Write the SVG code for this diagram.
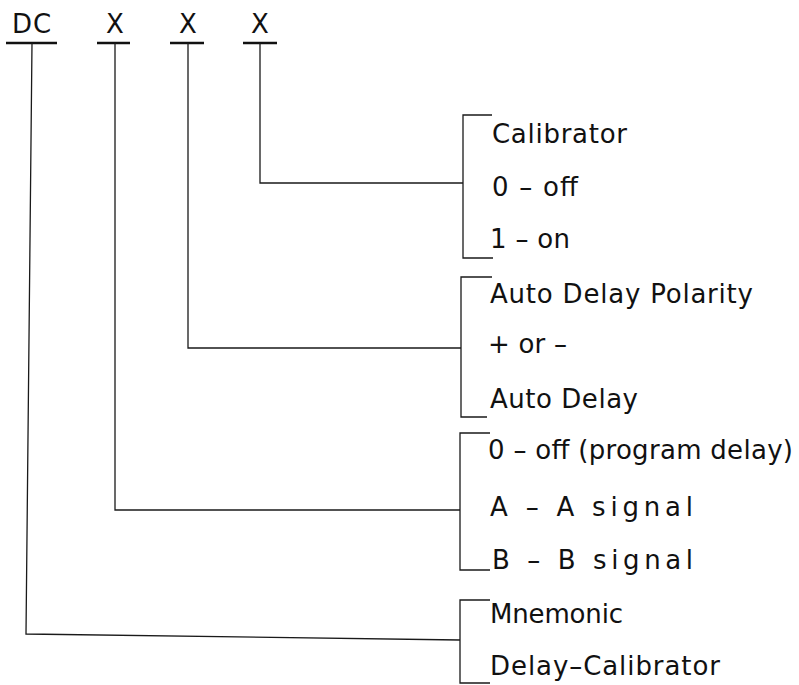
<svg xmlns="http://www.w3.org/2000/svg" width="799" height="685" viewBox="0 0 799 685">
<style>
.t{font-family:"DejaVu Sans","Liberation Sans",sans-serif;font-size:26px;fill:#111}
.h{font-family:"DejaVu Sans","Liberation Sans",sans-serif;font-size:26px;letter-spacing:1px;fill:#111}
.c{fill:none;stroke:#1a1a1a;stroke-width:1.3}
.u{fill:none;stroke:#111;stroke-width:2.5}
</style>
<rect width="799" height="685" fill="#fff"/>
<g id="header">
<text class="h" x="12" y="33">DC</text>
<text class="h" x="106" y="33">X</text>
<text class="h" x="179" y="33">X</text>
<text class="h" x="251" y="33">X</text>
<path class="u" d="M6 43H57M97 43H130M170 43H204M243 43H277"/>
</g>
<g id="connectors">
<path class="c" d="M260 43V183H463"/>
<path class="c" d="M188 43V348H461"/>
<path class="c" d="M115 43V510H460"/>
<path class="c" d="M32 43L26 634L460 640"/>
</g>
<g id="calibrator">
<path class="c" d="M492 115H463V258H493"/>
<text class="t" x="492" y="143" textLength="135" lengthAdjust="spacing">Calibrator</text>
<text class="t" x="492" y="196" textLength="86" lengthAdjust="spacing">0 – off</text>
<text class="t" x="490" y="248" textLength="80" lengthAdjust="spacing">1 – on</text>
</g>
<g id="polarity">
<path class="c" d="M492 277H461V417H487"/>
<text class="t" x="490" y="303" textLength="263" lengthAdjust="spacing">Auto Delay Polarity</text>
<text class="t" x="488" y="353" textLength="79" lengthAdjust="spacing">+ or –</text>
<text class="t" x="490" y="408" textLength="148" lengthAdjust="spacing">Auto Delay</text>
</g>
<g id="autodelay">
<path class="c" d="M490 433H460V570H490"/>
<text class="t" x="488" y="459" textLength="305" lengthAdjust="spacing">0 – off (program delay)</text>
<text class="t" x="490" y="516" textLength="203" lengthAdjust="spacing">A – A signal</text>
<text class="t" x="492" y="569" textLength="201" lengthAdjust="spacing">B – B signal</text>
</g>
<g id="mnemonic">
<path class="c" d="M490 600H460V683H490"/>
<text class="t" x="490" y="623" textLength="133" lengthAdjust="spacing">Mnemonic</text>
<text class="t" x="490" y="675" textLength="230" lengthAdjust="spacing">Delay–Calibrator</text>
</g>
</svg>
